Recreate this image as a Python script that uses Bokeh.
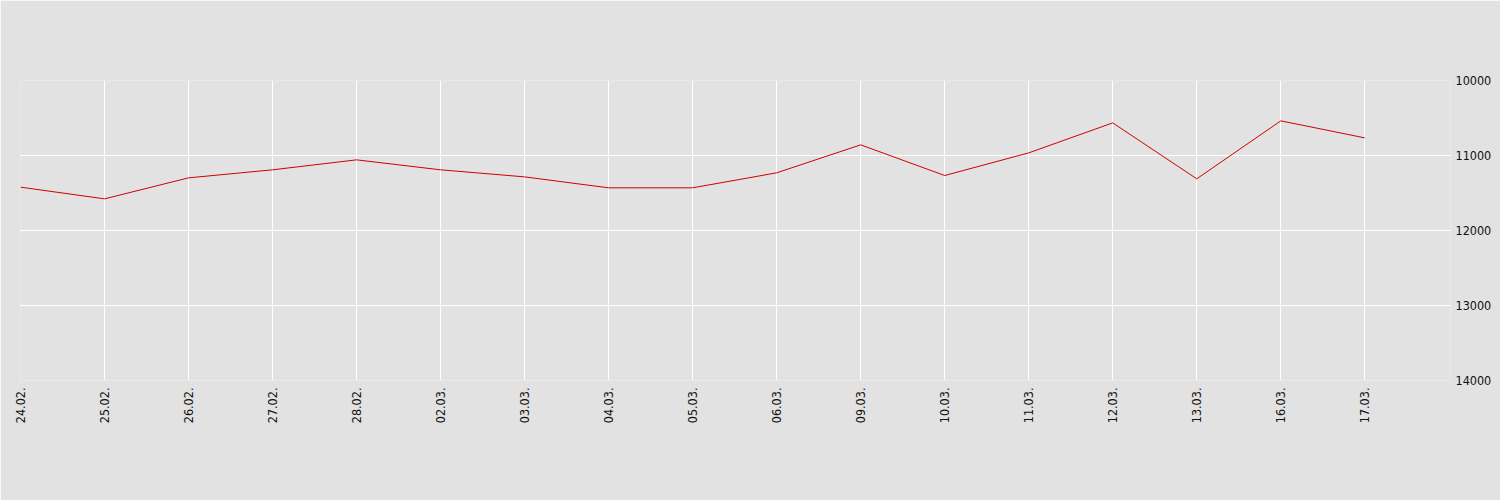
from bokeh.plotting import figure
from bokeh.models import Range1d, LinearAxis, FixedTicker
from bokeh.embed import file_html
from bokeh.resources import INLINE

dates = ["24.02.", "25.02.", "26.02.", "27.02.", "28.02.", "02.03.", "03.03.",
         "04.03.", "05.03.", "06.03.", "09.03.", "10.03.", "11.03.", "12.03.",
         "13.03.", "16.03.", "17.03."]
values = [11422, 11578, 11298, 11191, 11058, 11191, 11285, 11431, 11431,
          11231, 10858, 11267, 10965, 10565, 11311, 10538, 10765]
y_ticks = [10000, 11000, 12000, 13000, 14000]

xs = list(range(len(dates)))

BG = "#e2e2e2"
FONT = "DejaVu Sans Condensed"

p = figure(width=1500, height=500, output_backend="svg", toolbar_location=None,
           x_range=Range1d(0, 17.02), y_range=Range1d(14000, 10000),
           y_axis_location=None, x_axis_location=None,
           background_fill_color=BG, border_fill_color=BG,
           min_border_left=20, min_border_top=80, min_border_bottom=120,
           min_border_right=50)
p.outline_line_color = None

p.line(xs, values, line_color="#cc0000", line_width=1)

xaxis = LinearAxis(ticker=FixedTicker(ticks=xs))
xaxis.major_label_overrides = {i: d for i, d in enumerate(dates)}
xaxis.major_label_orientation = 1.5707963
xaxis.axis_line_color = None
xaxis.major_tick_line_color = None
xaxis.minor_tick_line_color = None
xaxis.major_tick_out = 0
xaxis.major_tick_in = 0
xaxis.major_label_standoff = 7
xaxis.major_label_text_font = FONT
xaxis.major_label_text_font_size = "12.5px"
xaxis.major_label_text_color = "#111111"
p.add_layout(xaxis, "below")

yaxis = LinearAxis(ticker=FixedTicker(ticks=y_ticks))
yaxis.axis_line_color = None
yaxis.major_tick_line_color = None
yaxis.minor_tick_line_color = None
yaxis.major_tick_out = 0
yaxis.major_tick_in = 0
yaxis.major_label_standoff = 5
yaxis.major_label_text_font = FONT
yaxis.major_label_text_font_size = "12.5px"
yaxis.major_label_text_color = "#111111"
p.add_layout(yaxis, "right")

p.xgrid.ticker = FixedTicker(ticks=xs)
p.ygrid.ticker = FixedTicker(ticks=y_ticks)
p.xgrid.grid_line_color = "white"
p.ygrid.grid_line_color = "white"
p.xgrid.grid_line_width = 1
p.ygrid.grid_line_width = 1
p.xgrid.axis = xaxis
p.ygrid.axis = yaxis

open("out.html", "w").write(file_html(p, INLINE))
